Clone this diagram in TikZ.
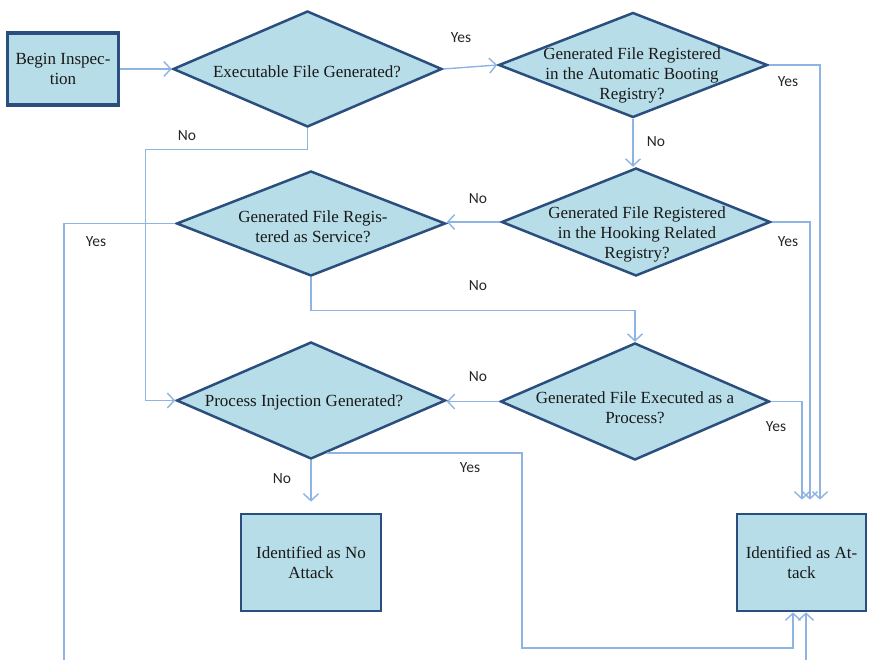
\documentclass[tikz,border=0pt]{standalone}
\usepackage{fontspec}
\setmainfont{Liberation Serif}
\newfontfamily\lblfont{Carlito}
\usetikzlibrary{shapes.geometric,arrows.meta,calc}
\definecolor{boxfill}{RGB}{183,221,232}
\definecolor{boxline}{RGB}{42,78,125}
\definecolor{flowline}{RGB}{141,180,226}

\begin{document}
\begin{tikzpicture}[x=1pt,y=-1pt,
  decision/.style={diamond, draw=boxline, fill=boxfill, line width=2.5pt,
    minimum width=269pt, inner sep=0pt},
  dtext/.style={font=\fontsize{17}{20}\selectfont, align=center, text=black!90},
  stepbox/.style={rectangle, draw=boxline, fill=boxfill, line width=2.7pt,
    font=\fontsize{17}{20}\selectfont, align=center, text=black!90},
  flow/.style={draw=flowline, line width=1.4pt,
    -{Straight Barb[length=7pt,width=15pt]}},
  lbl/.style={font=\lblfont\fontsize{15.5}{17}\selectfont, text=black!85}
]
\useasboundingbox (0,0) rectangle (870,660);
\clip (0,0) rectangle (870,660);

% process boxes
\node[stepbox, line width=3.2pt, minimum width=111pt, minimum height=72pt] (begin) at (63,69) {Begin Inspec-\\tion};
\node[stepbox, minimum width=140pt, minimum height=97pt] (na) at (311,562.5) {Identified as No\\Attack};
\node[stepbox, minimum width=129pt, minimum height=97pt] (att) at (801.5,562.5) {Identified as At-\\tack};

% decisions
\node[decision, minimum height=116pt] (d1) at (307.5,69) {};
\node[dtext] (t1) at (307,72) {Executable File Generated?};
\node[decision, minimum height=105pt] (d2) at (633,65) {};
\node[dtext] (t2) at (632,75) {Generated File Registered\\in the Automatic Booting\\Registry?};
\node[decision, minimum height=108pt] (d3) at (636,222) {};
\node[dtext] (t3) at (637,234) {Generated File Registered\\in the Hooking Related\\Registry?};
\node[decision, minimum height=105pt] (d4) at (311,223.5) {};
\node[dtext] (t4) at (313,227) {Generated File Regis-\\tered as Service?};
\node[decision, minimum height=117pt] (d5) at (635,401.5) {};
\node[dtext] (t5) at (635,408) {Generated File Executed as a\\Process?};
\node[decision, minimum height=117pt] (d6) at (311,400.5) {};
\node[dtext] (t6) at (304,402) {Process Injection Generated?};

% branch labels
\node[lbl] (l1) at (461,38) {Yes};
\node[lbl] (l2) at (788,82) {Yes};
\node[lbl] (l3) at (656,142) {No};
\node[lbl] (l4) at (187,136) {No};
\node[lbl] (l5) at (478,199) {No};
\node[lbl] (l6) at (788,242) {Yes};
\node[lbl] (l7) at (96,242) {Yes};
\node[lbl] (l8) at (478,286) {No};
\node[lbl] (l9) at (478,377) {No};
\node[lbl] (l10) at (776,427) {Yes};
\node[lbl] (l11) at (282,479) {No};
\node[lbl] (l12) at (470,468) {Yes};

% connectors
\draw[flow] (begin.east) -- (d1.west);
\draw[flow] (d1.east) -- (d2.west);
\draw[flow] (d2.south) -- (d2.south |- d3.north);
\draw[flow] (d3.west) -- (d3.west -| d4.east);
\draw[flow] (d5.west) -- (d5.west -| d6.east);
\draw[flow] (d1.south) -- ++(0,21) -| ([xshift=-30pt]d6.west) -- (d6.west);
\draw[flow] (d4.south) -- ++(0,33) -| (d5.north);
\draw[flow, shorten >=13pt] (d2.east) -| ([xshift=18.5pt]att.north);
\draw[flow, shorten >=13pt] (d3.east) -| ([xshift=8.5pt]att.north);
\draw[flow, shorten >=13pt] (d5.east) -| ([xshift=0.5pt]att.north);
\draw[flow, shorten >=11pt] (d6.south) -- (na.north);

\coordinate (p6) at ($(d6.south)!0.12!(d6.east)$);
\coordinate (yesturn) at (522,648);
\draw[flow] (p6) -| (yesturn) -| ([xshift=-8.5pt]att.south);

\coordinate (loop) at (64,700);
\draw[flow] (d4.west) -| (loop) -| ([xshift=4.5pt]att.south);
\end{tikzpicture}
\end{document}
